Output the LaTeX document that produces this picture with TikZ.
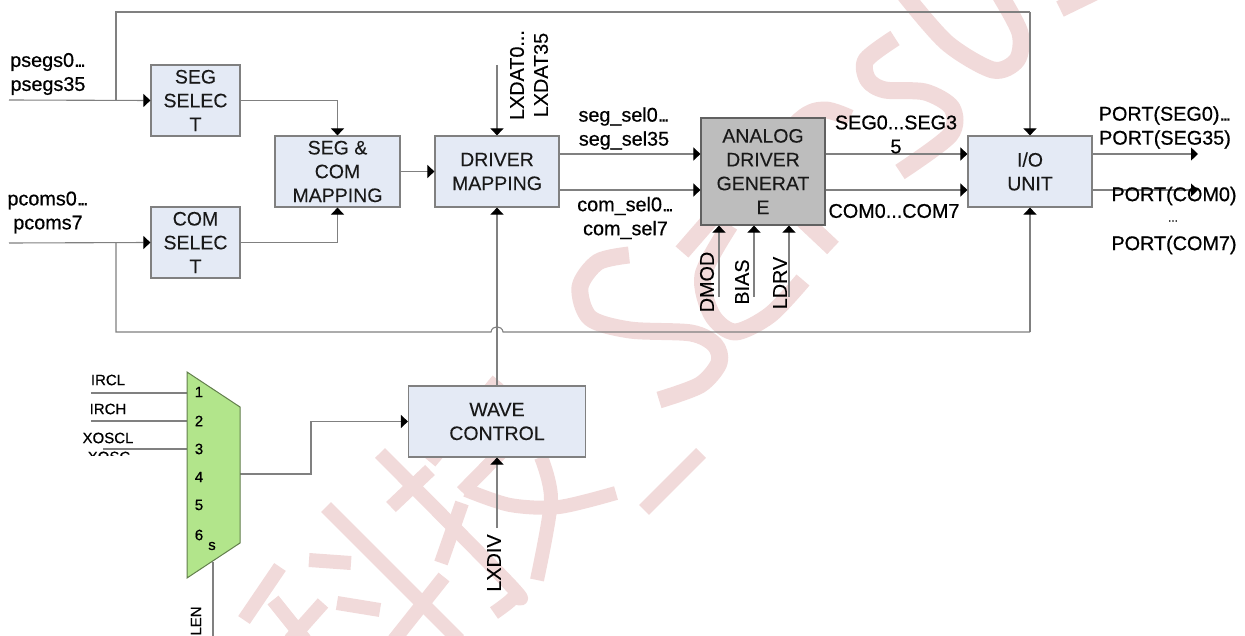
\documentclass[tikz,border=0pt]{standalone}
\usepackage{fontspec}
\setmainfont{Liberation Sans}
\newfontfamily\lblfont{Liberation Sans}[FakeBold=0.6]
\newfontfamily\boxfont{Liberation Sans}[FakeBold=0.15]
\newcommand{\dd}{.\kern-2.4pt.\kern-2.4pt.}
\usetikzlibrary{arrows.meta}
\definecolor{wm}{HTML}{F1DADA}
\definecolor{linegray}{HTML}{808080}
\definecolor{boxblue}{HTML}{E4EAF5}
\definecolor{muxgreen}{HTML}{B2E58B}
\tikzset{
  conn/.style={draw=linegray,line width=1.1pt},
  arr/.style={conn,-{Triangle[length=7pt,width=13pt,fill=black,color=black]}},
  wmark/.style={draw=wm,line width=14pt,line join=round},
  wletter/.style={draw=wm,line width=17pt,line join=round},
  bluebox/.style={draw=linegray,line width=1.2pt,fill=boxblue,inner sep=0pt,align=center,text=black!90,
     font=\boxfont\fontsize{19.5}{23.8}\selectfont},
  greybox/.style={bluebox,fill=black!26,draw=black!62},
  lbl/.style={inner sep=0pt,align=center,font=\lblfont\fontsize{19.8}{24}\selectfont},
  rlbl/.style={inner sep=0pt,rotate=90,font=\boxfont\fontsize{19.8}{24}\selectfont},
  small/.style={inner sep=0pt,font=\lblfont\fontsize{15}{16}\selectfont},
}
\begin{document}
\begin{tikzpicture}[x=1pt,y=-1pt]
\useasboundingbox (0,0) rectangle (1245,636);
\clip (0,0) rectangle (1245,636);
% watermark
\draw[wletter] plot[smooth] coordinates {(629,255) (598,262) (580,287) (590,318) (630,330) (691,333) (715,345) (719,363) (700,385) (659,400)};
\draw[wletter] plot[smooth] coordinates {(682,252) (745,180) (800,120) (825,110) (850,118)};
\draw[wletter] (833,248) -- (747,167);
\draw[wletter] plot[smooth] coordinates {(803,280) (770,315) (735,332) (712,315) (703,275) (730,225)};
\draw[wletter] plot[smooth] coordinates {(895,38) (866,60) (868,80) (885,90) (925,92) (952,108) (950,135) (900,172)};
\draw[wletter] plot[smooth] coordinates {(905,-5) (947,43) (993,70) (1017,60) (1020,33) (1000,-5)};
\draw[wletter] (1060,9) -- (1095,-8);
\draw[wmark] plot[smooth] coordinates {(541,457) (551,500) (537,580)};
\draw[wmark] plot[smooth] coordinates {(466,490) (510,505) (559,507) (616,493)};
\draw[wmark] (498,380) -- (430,462);
\draw[wmark] (523,430) -- (462,492);
\draw[wmark] (701,453) -- (644,510);
\draw[wmark] plot[smooth] coordinates {(380,453) (512,587) (513,598) (494,613)};
\draw[wmark] (430,470) -- (391,507);
\draw[wmark] (462,503) -- (441,563);
\draw[wmark] (326,507) -- (459,640);
\draw[wmark] (444,577) -- (394,640);
\draw[wmark] (309,560) -- (351,563);
\draw[wmark] (337,603) -- (380,610);
\draw[wmark] (280,567) -- (244,620);
\draw[wmark] (273,600) -- (305,640);
\draw[wmark] (323,603) -- (290,640);
% helper coordinates
\coordinate (y154) at (0,154);
\coordinate (y190) at (0,190);
\coordinate (x116) at (116,0);
\coordinate (ptop) at (9,100);
\coordinate (pbot) at (9,243);
\coordinate (ftl) at (116,12);
\coordinate (ftr) at (1030,12);
\coordinate (fbl) at (116,332);
\coordinate (fbr) at (1030,332);
\coordinate (jl) at (491,332);
\coordinate (jr) at (503,332);
\coordinate (lxtop) at (497,65);
\coordinate (outa) at (1198,154);
\coordinate (outb) at (1198,190);
\coordinate (dm) at (719,297);
\coordinate (bi) at (754,297);
\coordinate (ld) at (789,297);
\coordinate (lxdivend) at (497,528);
\coordinate (in1) at (91,393);
\coordinate (in2) at (91,421);
\coordinate (in3) at (103,449);
\coordinate (m1) at (187,393);
\coordinate (m2) at (187,421);
\coordinate (m3) at (187,449);
\coordinate (mout) at (240,474);
\coordinate (lentop) at (213,562);
\coordinate (lenbot) at (213,640);
% boxes
\node[bluebox,minimum width=89pt,minimum height=71pt] (seg) at (195.5,100.5) {SEG\\SELEC\\T};
\node[bluebox,minimum width=89pt,minimum height=71pt] (com) at (195.5,242.5) {COM\\SELEC\\T};
\node[bluebox,minimum width=125pt,minimum height=71pt] (map) at (337.5,171.5) {SEG \&\\COM\\MAPPING};
\node[bluebox,minimum width=124pt,minimum height=71pt] (drv) at (497,171.5) {DRIVER\\MAPPING};
\node[greybox,minimum width=124pt,minimum height=107pt] (ana) at (763,171.5) {ANALOG\\DRIVER\\GENERAT\\E};
\node[bluebox,minimum width=124pt,minimum height=71pt] (io) at (1030,171.5) {I/O\\UNIT};
\node[bluebox,minimum width=177pt,minimum height=71pt] (wave) at (497,421.5) {WAVE\\CONTROL};
% connectors
\draw[conn] (x116 |- ptop) -- (ftl) -- (ftr);
\draw[arr] (ftr) -- (io.north);
\draw[arr] (ptop) -- (seg.west);
\draw[arr] (pbot) -- (com.west);
\draw[conn] (x116 |- pbot) -- (fbl) -- (jl) .. controls (492,325) and (502,325) .. (jr) -- (fbr);
\draw[arr] (fbr) -- (io.south);
\draw[arr] (seg.east) -| (map.north);
\draw[arr] (com.east) -| (map.south);
\draw[arr] (map.east) -- (drv.west);
\draw[arr] (lxtop) -- (drv.north);
\draw[arr] (wave.north) -- (drv.south);
\draw[arr] (drv.east |- y154) -- (ana.west |- y154);
\draw[arr] (drv.east |- y190) -- (ana.west |- y190);
\draw[arr] (ana.east |- y154) -- (io.west |- y154);
\draw[arr] (ana.east |- y190) -- (io.west |- y190);
\draw[arr] (io.east |- y154) -- (outa);
\draw[arr] (io.east |- y190) -- (outb);
\draw[arr] (dm) -- (dm |- ana.south);
\draw[arr] (bi) -- (bi |- ana.south);
\draw[arr] (ld) -- (ld |- ana.south);
\draw[arr] (lxdivend) -- (wave.south);
\draw[arr] (mout) -- (311,474) -- (311,421.5) -- (wave.west);
\draw[conn] (in1) -- (m1);
\draw[conn] (in2) -- (m2);
\draw[conn] (in3) -- (m3);
\draw[conn] (lentop) -- (lenbot);
% mux
\filldraw[draw=black!45!muxgreen,fill=muxgreen,line width=1pt] (187,372) -- (240,407) -- (240,543) -- (187,578) -- cycle;
\foreach \n/\yy in {1/392,2/421,3/449,4/477,5/505,6/535}
  \node[small] (num\n) at (199,\yy) {\n};
\node[small] (sel) at (212,546) {s};
% labels
\node[lbl] (l1) at (48,74) {psegs0\dd\\psegs35};
\node[lbl] (l2) at (48,212.5) {pcoms0\dd\\pcoms7};
\node[rlbl] (l3) at (517,75) {LXDAT0...};
\node[rlbl] (l4) at (541,75) {LXDAT35};
\node[lbl] (l5) at (624,128.5) {seg\_sel0\dd\\seg\_sel35};
\node[lbl] (l6) at (625.5,218) {com\_sel0\dd\\com\_sel7};
\node[lbl] (l7) at (896,134.5) {SEG0...SEG3\\5};
\node[lbl] (l8) at (894,211) {COM0...COM7};
\node[lbl] (l9) at (1165,127.5) {PORT(SEG0)\dd\\PORT(SEG35)};
\node[lbl] (l10) at (1174,196) {PORT(COM0)};
\node[inner sep=0pt,font=\lblfont\fontsize{12}{12}\selectfont] (l11) at (1173,221) {...};
\node[lbl] (l12) at (1174,245) {PORT(COM7)};
\node[rlbl] (l13) at (707,282) {DMOD};
\node[rlbl] (l14) at (742,282) {BIAS};
\node[rlbl] (l15) at (780,283) {LDRV};
\node[rlbl] (l16) at (494,563) {LXDIV};
\node[small] (l17) at (108,380) {IRCL};
\node[small] (l18) at (108,409) {IRCH};
\node[small] (l19) at (108,438) {XOSCL};
\begin{scope}
\clip (60,445) rectangle (180,455.5);
\node[small] (l20) at (109,457) {XOSC};
\end{scope}
\node[small,rotate=90] (l21) at (196,621) {LEN};
\end{tikzpicture}
\end{document}
